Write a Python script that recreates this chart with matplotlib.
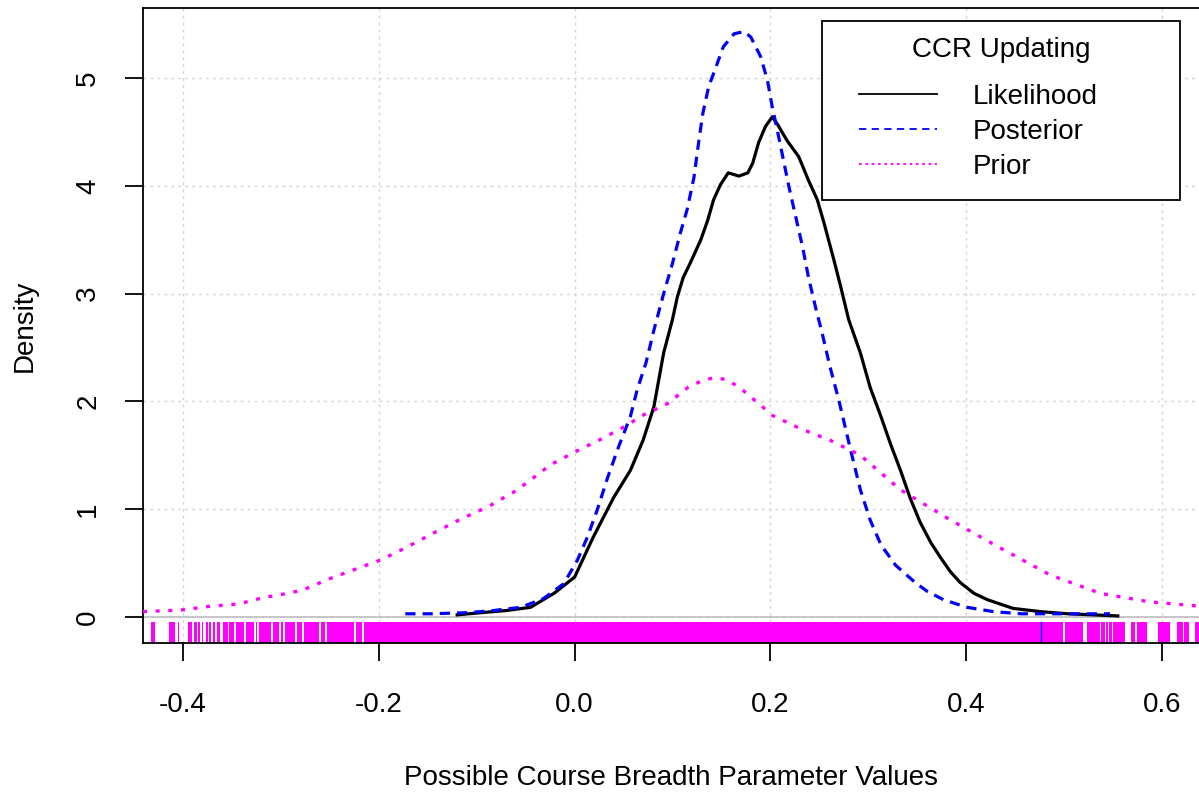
import matplotlib
matplotlib.use("Agg")
import matplotlib.pyplot as plt
from matplotlib.patches import Rectangle
from matplotlib.lines import Line2D

plt.rcParams['font.family'] = ['Liberation Sans', 'DejaVu Sans']

# density curves
lik_x = [-0.120, -0.096, -0.070, -0.045, -0.021, 0.000, 0.019, 0.040, 0.057, 0.070,
         0.081, 0.091, 0.100, 0.105, 0.111, 0.118, 0.129, 0.136, 0.142, 0.149,
         0.157, 0.168, 0.177, 0.182, 0.188, 0.195, 0.202, 0.208, 0.217, 0.229,
         0.239, 0.248, 0.255, 0.265, 0.272, 0.280, 0.292, 0.302, 0.313, 0.323,
         0.333, 0.343, 0.353, 0.364, 0.374, 0.384, 0.394, 0.408, 0.422, 0.448,
         0.476, 0.504, 0.530, 0.555]
lik_y = [0.02, 0.04, 0.06, 0.09, 0.22, 0.37, 0.74, 1.11, 1.36, 1.64,
         1.95, 2.45, 2.76, 2.97, 3.15, 3.28, 3.50, 3.68, 3.87, 4.01,
         4.12, 4.09, 4.12, 4.21, 4.40, 4.55, 4.64, 4.56, 4.42, 4.27,
         4.05, 3.87, 3.65, 3.31, 3.06, 2.76, 2.45, 2.13, 1.86, 1.60,
         1.36, 1.10, 0.88, 0.69, 0.55, 0.42, 0.32, 0.22, 0.16, 0.08,
         0.05, 0.03, 0.02, 0.01]

post_x = [-0.173, -0.147, -0.110, -0.083, -0.055, -0.032, -0.011, 0.003, 0.013, 0.023,
          0.034, 0.045, 0.057, 0.064, 0.073, 0.081, 0.091, 0.100, 0.108, 0.115,
          0.122, 0.127, 0.131, 0.137, 0.144, 0.152, 0.163, 0.173, 0.180, 0.190,
          0.197, 0.202, 0.207, 0.212, 0.219, 0.226, 0.233, 0.239, 0.246, 0.253,
          0.261, 0.270, 0.282, 0.292, 0.302, 0.313, 0.328, 0.348, 0.360, 0.377,
          0.401, 0.428, 0.456, 0.483, 0.510, 0.547]
post_y = [0.03, 0.03, 0.04, 0.06, 0.09, 0.17, 0.31, 0.53, 0.74, 0.99,
          1.30, 1.58, 1.86, 2.11, 2.36, 2.66, 3.00, 3.28, 3.56, 3.78,
          4.08, 4.42, 4.67, 4.92, 5.09, 5.29, 5.41, 5.43, 5.38, 5.20,
          4.98, 4.73, 4.52, 4.30, 3.99, 3.71, 3.43, 3.15, 2.88, 2.63,
          2.32, 2.01, 1.55, 1.18, 0.90, 0.67, 0.48, 0.32, 0.24, 0.16,
          0.09, 0.05, 0.03, 0.03, 0.03, 0.03]

prior_x = [-0.441, -0.402, -0.372, -0.344, -0.318, -0.293, -0.278, -0.249, -0.198, -0.171,
           -0.144, -0.116, -0.089, -0.062, -0.048, -0.025, 0.000, 0.027, 0.054, 0.067,
           0.095, 0.116, 0.132, 0.144, 0.156, 0.170, 0.180, 0.192, 0.202, 0.230,
           0.261, 0.292, 0.333, 0.384, 0.435, 0.486, 0.537, 0.588, 0.640]
prior_y = [0.05, 0.065, 0.10, 0.12, 0.18, 0.22, 0.25, 0.36, 0.53, 0.65,
           0.78, 0.91, 1.02, 1.16, 1.25, 1.41, 1.53, 1.65, 1.78, 1.86,
           1.98, 2.13, 2.20, 2.22, 2.20, 2.12, 2.04, 1.95, 1.87, 1.75,
           1.64, 1.50, 1.18, 0.90, 0.64, 0.39, 0.22, 0.14, 0.10]

# rug: stretches of data values (start, end) that show as magenta ticks
rug_start = [-0.4331, -0.4147, -0.4055, -0.3953, -0.3892, -0.3851, -0.3810, -0.3769,
             -0.3739, -0.3698, -0.3657, -0.3596, -0.3534, -0.3463, -0.3361, -0.3259,
             -0.3228, -0.3085, -0.3003, -0.2962, -0.2840, -0.2768, -0.2594, -0.2533,
             -0.2237, -0.2155, 0.5015, 0.5240, 0.5383, 0.5434, 0.5465, 0.5506,
             0.5690, 0.5751, 0.5965, 0.6159, 0.6231, 0.6343]
rug_end = [-0.4290, -0.4086, -0.4040, -0.3912, -0.3861, -0.3831, -0.3795, -0.3749,
           -0.3718, -0.3677, -0.3626, -0.3545, -0.3483, -0.3381, -0.3279, -0.3243,
           -0.3105, -0.3023, -0.2978, -0.2860, -0.2789, -0.2615, -0.2554, -0.2257,
           -0.2176, 0.4995, 0.5194, 0.5368, 0.5419, 0.5449, 0.5490, 0.5623,
           0.5731, 0.5848, 0.6088, 0.6216, 0.6277, 0.6400]
rug_blue = [0.477]

x_ticks = [-0.4, -0.2, 0.0, 0.2, 0.4, 0.6]
x_labels = ['-0.4', '-0.2', '0.0', '0.2', '0.4', '0.6']
y_ticks = [0, 1, 2, 3, 4, 5]
y_labels = ['0', '1', '2', '3', '4', '5']

fig = plt.figure(figsize=(11.99, 7.95), dpi=100)
ax = fig.add_axes([143 / 1199, 1 - 643 / 795, 1 - 143 / 1199, (643 - 8) / 795])

# grid like R's grid()
for xv in x_ticks:
    ax.axvline(xv, color='#d3d3d3', lw=1.0, ls=(0, (2, 3)), zorder=0)
for yv in y_ticks:
    ax.axhline(yv, color='#d3d3d3', lw=1.0, ls=(0, (2, 3)), zorder=0)
ax.axhline(0, color='#bebebe', lw=1.2, zorder=1)

ax.plot(lik_x, lik_y, color='black', lw=2.3, zorder=3)
ax.plot(post_x, post_y, color='#0000ff', lw=2.3, dashes=(3.2, 2.2), zorder=3)
ax.plot(prior_x, prior_y, color='#ff00ff', lw=2.4, dashes=(1.2, 2.6), zorder=3)

for a, b in zip(rug_start, rug_end):
    ax.axvspan(a, b, ymin=0, ymax=0.033, color='#ff00ff', lw=0, zorder=2)
for v in rug_blue:
    ax.axvline(v, ymin=0, ymax=0.033, color='#0000ff', lw=1.0, zorder=2)

ax.set_xlim(-0.441, 0.638)
ax.set_ylim(-0.241, 5.649)
ax.set_xticks(x_ticks)
ax.set_xticklabels(x_labels)
ax.set_yticks(y_ticks)
ax.set_yticklabels(y_labels, rotation=90, va='center')
ax.tick_params(axis='both', length=13, width=1.3, labelsize=20, direction='out')
ax.tick_params(axis='x', pad=22)
ax.tick_params(axis='y', pad=17)
for s in ['left', 'top', 'bottom']:
    ax.spines[s].set_linewidth(1.3)
ax.spines['right'].set_visible(False)

ax.set_xlabel('Possible Course Breadth Parameter Values', fontsize=20, labelpad=34)
ax.set_ylabel('Density', fontsize=20, labelpad=27)

# legend box drawn by hand, in figure pixels
def fx(px):
    return px / 1199

def fy(py):
    return 1 - py / 795

fig.add_artist(Rectangle((fx(822), fy(200)), fx(1180) - fx(822), fy(21) - fy(200),
                         transform=fig.transFigure, fill=True, facecolor='white',
                         edgecolor='black', lw=1.3, zorder=5))
fig.text(fx(1001), fy(50), 'CCR Updating', fontsize=20, ha='center', va='center', zorder=6)
leg_labels = ['Likelihood', 'Posterior', 'Prior']
leg_colors = ['black', '#0000ff', '#ff00ff']
leg_styles = ['-', (0, (4, 3)), (0, (1.5, 2))]
leg_rows = [97, 132, 167]
for lab, col, st, row in zip(leg_labels, leg_colors, leg_styles, leg_rows):
    fig.add_artist(Line2D([fx(859), fx(937)], [fy(row - 3), fy(row - 3)],
                          transform=fig.transFigure, color=col, ls=st, lw=1.3, zorder=6))
    fig.text(fx(973), fy(row), lab, fontsize=20, ha='left', va='center', zorder=6)

fig.savefig('out.png', dpi=100)
